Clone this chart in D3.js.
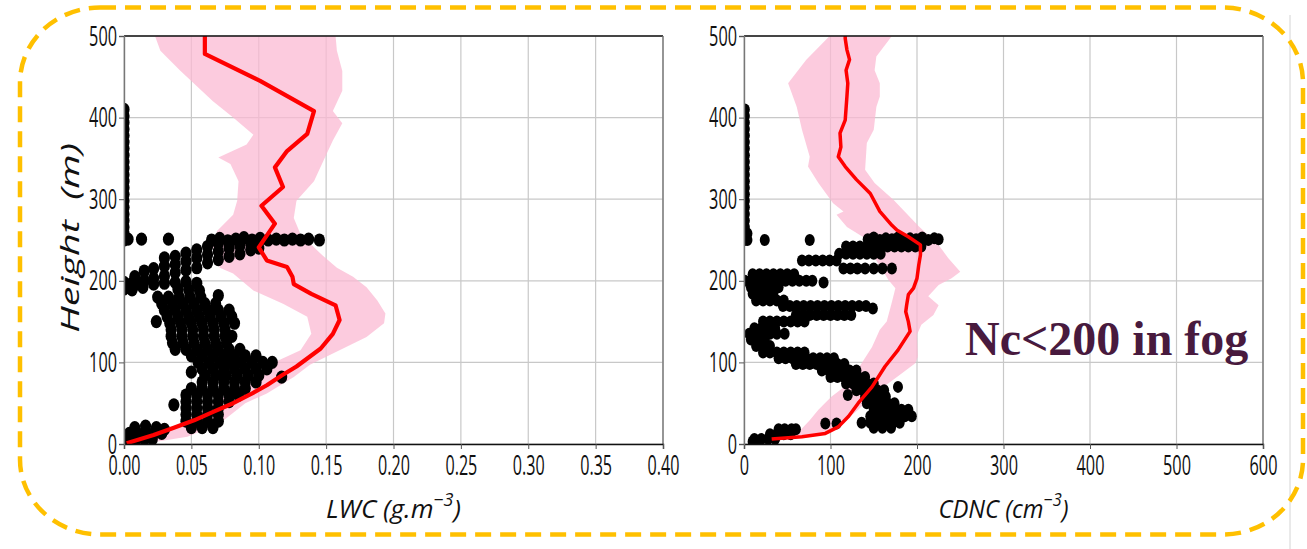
<!DOCTYPE html>
<html lang="en">
<head>
<meta charset="UTF-8">
<title>LWC and CDNC profiles in fog</title>
<script src="https://d3js.org/d3.v7.min.js"></script>
<style>
  html, body { margin: 0; padding: 0; background: #fff; }
  svg { display: block; }
  .sans { font-family: "Open Sans", "DejaVu Sans", sans-serif; }
</style>
</head>
<body>
<svg id="chart" width="1307" height="549"></svg>
<script>
// ---------- data ----------
var heightTicks = [0, 100, 200, 300, 400, 500];
var lwcTicks = [0, 0.05, 0.10, 0.15, 0.20, 0.25, 0.30, 0.35, 0.40];
var cdncTicks = [0, 100, 200, 300, 400, 500, 600];

// mean LWC profile [LWC, height]
var lwcMean = [[0.060,500],[0.060,478],[0.101,445],[0.141,408],[0.136,380],[0.121,359],[0.112,339],
  [0.118,315],[0.102,292],[0.112,270],[0.100,241],[0.106,225],[0.121,217],[0.125,205],[0.126,196],
  [0.139,184],[0.157,170],[0.160,152],[0.155,135],[0.146,117],[0.128,95],[0.117,84],[0.106,72],
  [0.094,61],[0.081,50],[0.067,40],[0.052,29],[0.037,20],[0.022,11],[0.002,1]];
// spread of LWC (left and right edge)
var lwcLow = [[0.023,500],[0.027,482],[0.042,457],[0.066,420],[0.081,400],[0.096,379],[0.091,367],
  [0.070,351],[0.079,343],[0.085,322],[0.084,298],[0.081,281],[0.069,261],[0.066,241],[0.071,216],
  [0.081,209],[0.096,188],[0.118,172],[0.136,156],[0.139,135],[0.131,115],[0.110,99],[0.098,85],
  [0.085,70],[0.072,55],[0.058,40],[0.045,28],[0.030,16],[0.012,5],[0.0,0]];
var lwcHigh = [[0.157,500],[0.158,482],[0.162,457],[0.162,433],[0.155,408],[0.162,393],[0.155,372],
  [0.148,347],[0.141,322],[0.128,298],[0.126,277],[0.131,257],[0.146,233],[0.158,216],[0.170,205],
  [0.180,192],[0.188,176],[0.194,160],[0.193,148],[0.180,131],[0.155,111],[0.138,97],[0.126,82],
  [0.106,62],[0.090,50],[0.071,25],[0.047,9],[0.017,1]];
// individual LWC samples
var lwcSamples = [
  [0,410],[0,402],[0,394],[0,386],[0,378],[0,370],[0,362],[0,354],[0,346],[0,338],[0,330],[0,322],
  [0,314],[0,306],[0,298],[0,290],[0,282],[0,274],[0,266],[0,258],[0,250],
  [0.003,251],[0.013,251],[0.033,251],[0.065,250],[0.071,252],[0.077,249],[0.083,251],[0.089,253],
  [0.095,250],[0.101,252],[0.107,250],[0.113,251],[0.119,250],[0.125,251],[0.131,250],[0.137,251],[0.145,250],
  [0.008,195],[0.008,205],[0.015,200],[0.015,212],[0.022,203],[0.022,215],[0.030,206],[0.030,218],
  [0.030,228],[0.038,210],[0.038,220],[0.038,230],[0.046,213],[0.046,224],[0.046,234],[0.054,216],
  [0.054,228],[0.054,238],[0.062,222],[0.062,232],[0.062,242],[0.070,226],[0.070,236],[0.070,246],
  [0.078,230],[0.078,240],[0.078,248],[0.086,233],[0.086,243],[0.094,238],[0.094,246],[0.100,240],[0.100,248],
  [0,198],[0,190],[0.006,197],[0.006,189],[0.014,192],[0.022,196],[0.030,197],[0.038,198],[0.046,199],
  [0.054,197],[0.040,190],[0.048,189],[0.056,188],[0.070,182],
  [0.025,180],[0.033,180],[0.041,180],[0.049,180],[0.057,180],
  [0.028,172],[0.036,172],[0.044,172],[0.052,172],[0.060,172],[0.068,172],
  [0.030,164],[0.038,164],[0.046,164],[0.054,164],[0.062,164],[0.070,164],[0.078,164],
  [0.032,156],[0.040,156],[0.048,156],[0.056,156],[0.064,156],[0.072,156],[0.080,156],[0.024,150],
  [0.034,148],[0.042,148],[0.050,148],[0.058,148],[0.066,148],[0.074,148],[0.082,148],
  [0.035,140],[0.043,140],[0.051,140],[0.059,140],[0.067,140],[0.075,140],
  [0.035,132],[0.043,132],[0.051,132],[0.059,132],[0.067,132],[0.075,132],[0.080,132],
  [0.036,124],[0.044,124],[0.052,124],[0.060,124],[0.068,124],[0.076,124],
  [0.038,116],[0.046,116],[0.054,116],[0.062,116],[0.070,116],[0.078,116],[0.086,116],
  [0.050,108],[0.058,108],[0.066,108],[0.074,108],[0.082,108],[0.090,108],[0.098,108],
  [0.055,100],[0.063,100],[0.071,100],[0.079,100],[0.087,100],[0.095,100],[0.103,100],[0.110,100],
  [0.058,92],[0.066,92],[0.074,92],[0.082,92],[0.090,92],[0.098,92],[0.106,92],[0.050,88],
  [0.060,84],[0.068,84],[0.076,84],[0.084,84],[0.092,84],[0.100,84],[0.117,82],
  [0.058,76],[0.066,76],[0.074,76],[0.082,76],[0.090,76],[0.098,76],
  [0.050,68],[0.058,68],[0.066,68],[0.074,68],[0.082,68],[0.090,68],
  [0.046,60],[0.054,60],[0.062,60],[0.070,60],[0.078,60],[0.085,60],
  [0.046,52],[0.054,52],[0.062,52],[0.070,52],[0.078,52],[0.037,48],
  [0.046,44],[0.054,44],[0.062,44],[0.070,44],
  [0.046,36],[0.054,36],[0.062,36],[0.070,36],
  [0.046,28],[0.054,28],[0.062,28],[0.070,28],
  [0.050,20],[0.058,20],[0.066,20],[0.008,20],[0.016,22],[0.024,20],[0.030,18],
  [0.004,13],[0.010,13],[0.016,13],[0.022,13],[0.028,13],
  [0.003,6],[0.009,6],[0.015,6],[0.021,6],[0.003,1]];

// mean CDNC profile [CDNC, height]
var cdncMean = [[117,500],[117,497],[119,483],[122,471],[118,458],[120,442],[119,426],[117,397],
  [111,381],[112,364],[109,352],[117,340],[130,324],[146,307],[150,299],[157,285],[171,268],[177,262],
  [190,254],[204,244],[204,232],[202,219],[200,203],[196,191],[190,183],[188,170],[187,162],[190,150],
  [192,138],[178,115],[163,95],[148,70],[132,50],[121,34],[109,21],[94,13],[67,9],[32,6]];
var cdncLow = [[99,500],[72,471],[51,442],[61,413],[67,385],[76,352],[74,340],[86,320],[103,295],
  [115,285],[107,281],[119,266],[140,252],[151,228],[159,215],[167,201],[175,191],[171,174],[165,150],
  [157,140],[148,119],[136,99],[121,74],[101,58],[86,42],[76,29],[65,17],[47,9],[30,5]];
var cdncHigh = [[171,500],[153,475],[151,458],[157,442],[157,426],[153,413],[150,385],[142,369],
  [140,336],[151,320],[173,299],[202,267],[225,244],[236,228],[250,211],[240,203],[225,195],[213,181],
  [225,170],[219,158],[205,146],[200,134],[201,107],[198,99],[178,83],[151,62],[132,42],[113,25],
  [98,13],[67,7],[30,5]];
var cdncSamples = [
  [1,410],[1,402],[1,394],[1,386],[1,378],[1,370],[1,362],[1,354],[1,346],[1,338],[1,330],[1,322],
  [1,314],[1,306],[1,298],[1,290],[1,282],[1,274],[1,266],[1,258],[1,250],[4,258],[4,250],
  [24,250],[76,250],[143,251],[150,253],[157,250],[164,252],[171,251],[178,253],[185,250],[192,252],
  [199,251],[206,253],[213,250],[220,252],[225,251],
  [118,242],[126,242],[134,242],[142,242],[150,242],[158,242],[166,242],[174,242],[182,242],[190,242],[198,242],[205,242],
  [110,233],[118,233],[126,233],[134,233],[142,233],[150,233],[158,233],
  [67,225],[75,225],[83,225],[91,225],[99,225],[107,225],
  [115,215],[123,215],[131,215],[140,215],[150,215],[160,215],[171,215],
  [10,208],[18,208],[26,208],[34,208],[42,208],[50,208],[58,208],
  [1,200],[8,200],[16,200],[24,200],[32,200],[40,200],[48,200],[56,200],[64,200],[72,200],[79,200],[92,198],
  [8,192],[16,192],[24,192],[32,192],[40,192],
  [10,184],[18,184],[26,184],[34,184],
  [14,176],[22,176],[30,176],[38,176],[46,176],
  [45,169],[53,169],[61,169],[69,169],[77,169],[85,169],[93,169],[101,169],[109,169],[117,169],[125,169],[133,169],[141,169],[149,166],
  [60,158],[68,158],[76,158],[84,158],[92,158],[100,158],[108,158],[116,158],[124,158],
  [22,150],[30,150],[38,150],[46,150],[54,150],[62,150],[70,150],
  [12,142],[20,142],[28,142],[36,142],
  [6,135],[14,135],[22,135],[30,135],[38,135],[47,135],
  [8,128],[16,128],[24,128],
  [14,120],[22,120],[30,120],
  [22,112],[30,112],[38,112],[46,112],[54,112],[62,112],[70,112],
  [40,105],[48,105],[56,105],[64,105],[72,105],[80,105],[88,105],[96,105],[104,105],
  [60,98],[68,98],[76,98],[84,98],[92,98],[100,98],[108,98],[116,98],
  [90,90],[98,90],[106,90],[114,90],[122,90],[130,90],
  [100,82],[108,82],[116,82],[124,82],[132,82],[140,82],
  [118,74],[126,74],[134,74],[142,74],[150,74],
  [130,66],[138,66],[146,66],[154,66],[162,66],[120,60],[178,70],
  [140,58],[148,58],[156,58],[164,58],
  [142,50],[150,50],[158,50],[166,50],[174,50],
  [150,42],[158,42],[166,42],[174,42],[182,42],[190,42],
  [146,34],[154,34],[162,34],[170,34],[178,34],[186,34],[194,34],
  [136,26],[146,26],[155,26],[164,26],[172,26],[180,26],
  [150,20],[160,20],[170,20],[94,25],[107,25],
  [40,18],[47,18],[55,18],[60,18],
  [30,12],[38,12],[46,12],[54,12],
  [12,6],[20,6],[28,6],[36,6],[10,3],[18,3]];

// ---------- drawing ----------
var W = 1307, H = 549;
var top0 = 36, bottom0 = 444;
var svg = d3.select("#chart");

svg.append("rect").attr("width", W).attr("height", H).attr("fill", "#fff");

// thin separator on the right
svg.append("line")
   .attr("x1", 1290).attr("x2", 1290).attr("y1", 15).attr("y2", H)
   .attr("stroke", "#d4d4d4").attr("stroke-width", 1);

function drawPanel(p) {
    var x = d3.scaleLinear().domain(p.xDomain).range([p.left, p.right]);
    var y = d3.scaleLinear().domain([0, 500]).range([bottom0, top0]);
    var line = d3.line().x(function(d) { return x(d[0]); }).y(function(d) { return y(d[1]); });
    var g = svg.append("g");

    var clipId = "clip-" + p.name;
    svg.append("clipPath").attr("id", clipId)
       .append("rect")
       .attr("x", p.left).attr("y", top0)
       .attr("width", p.right - p.left).attr("height", bottom0 - top0);

    // grid
    g.selectAll(".vgrid").data(p.xTicks).enter().append("line")
     .attr("x1", function(d) { return x(d); }).attr("x2", function(d) { return x(d); })
     .attr("y1", top0).attr("y2", bottom0)
     .attr("stroke", "#c8c8c8").attr("stroke-width", 1.2);
    g.selectAll(".hgrid").data(heightTicks).enter().append("line")
     .attr("x1", p.left).attr("x2", p.right)
     .attr("y1", function(d) { return y(d); }).attr("y2", function(d) { return y(d); })
     .attr("stroke", "#c8c8c8").attr("stroke-width", 1.2);

    var inner = g.append("g").attr("clip-path", "url(#" + clipId + ")");

    // spread band
    var band = p.low.concat(p.high.slice().reverse());
    inner.append("path")
         .attr("fill", "#fbb9d3").attr("fill-opacity", 0.75)
         .attr("d", line(band) + "Z");

    // samples
    inner.selectAll(".dot").data(p.samples).enter().append("ellipse")
         .attr("cx", function(d) { return x(d[0]); })
         .attr("cy", function(d) { return y(d[1]); })
         .attr("rx", p.rx).attr("ry", p.ry)
         .attr("fill", "#000");

    // mean profile
    inner.append("path")
         .datum(p.mean)
         .attr("fill", "none").attr("stroke", "#ff0000")
         .attr("stroke-width", p.lineWidth).attr("stroke-linejoin", "round")
         .attr("d", line);

    // spines
    g.append("line").attr("x1", p.left).attr("x2", p.right).attr("y1", top0).attr("y2", top0)
     .attr("stroke", "#111").attr("stroke-width", 1.4);
    g.append("line").attr("x1", p.right).attr("x2", p.right).attr("y1", top0).attr("y2", bottom0)
     .attr("stroke", "#777").attr("stroke-width", 1.4);

    // axes
    var xAxis = g.append("g")
        .attr("transform", "translate(0," + bottom0 + ")")
        .call(d3.axisBottom(x).tickValues(p.xTicks).tickSize(5).tickFormat(p.xFormat));
    var yAxis = g.append("g")
        .attr("transform", "translate(" + p.left + ",0)")
        .call(d3.axisLeft(y).tickValues(heightTicks).tickSize(5).tickFormat(d3.format("d")));

    xAxis.select(".domain").attr("stroke", "#111").attr("stroke-width", 1.4);
    yAxis.select(".domain").attr("stroke", "#777").attr("stroke-width", 1.4);
    g.selectAll(".tick line").attr("stroke", "#555");

    function charWidth(s) {
        var w = 0;
        for (var i = 0; i < s.length; i++) w += (s[i] === ".") ? 4 : 9.3;
        return w;
    }
    xAxis.selectAll("text")
         .attr("class", "sans")
         .attr("y", 31).attr("dy", null)
         .attr("font-size", 28).attr("fill", "#111")
         .attr("lengthAdjust", "spacingAndGlyphs")
         .attr("textLength", function() { return charWidth(this.textContent); });
    yAxis.selectAll("text")
         .attr("class", "sans")
         .attr("x", -7).attr("dy", "0.34em")
         .attr("font-size", 27).attr("fill", "#111")
         .attr("lengthAdjust", "spacingAndGlyphs")
         .attr("textLength", function() { return charWidth(this.textContent); });

    // axis title
    var t = g.append("text")
        .attr("class", "sans")
        .attr("x", (p.left + p.right) / 2).attr("y", 518)
        .attr("text-anchor", "middle").attr("font-style", "italic")
        .attr("font-size", 26).attr("fill", "#111")
        .attr("lengthAdjust", "spacingAndGlyphs").attr("textLength", p.titleLength);
    t.append("tspan").text(p.title);
    t.append("tspan").attr("font-size", 18).attr("dy", -12).text("\u22123");
    t.append("tspan").attr("dy", 12).text(")");
}

drawPanel({
    name: "lwc", left: 124, right: 663, xDomain: [0, 0.4], xTicks: lwcTicks,
    xFormat: d3.format(".2f"), low: lwcLow, high: lwcHigh, samples: lwcSamples, mean: lwcMean,
    rx: 5.6, ry: 6.6, lineWidth: 4.2, title: "LWC (g.m", titleLength: 135
});
drawPanel({
    name: "cdnc", left: 744, right: 1263, xDomain: [0, 600], xTicks: cdncTicks,
    xFormat: d3.format("d"), low: cdncLow, high: cdncHigh, samples: cdncSamples, mean: cdncMean,
    rx: 5.0, ry: 6.0, lineWidth: 3.5, title: "CDNC (cm", titleLength: 130
});

// y title
svg.append("text")
   .attr("class", "sans")
   .attr("transform", "translate(79,238) rotate(-90)")
   .attr("text-anchor", "middle").attr("font-style", "italic")
   .attr("font-size", 25).attr("fill", "#111")
   .attr("lengthAdjust", "spacingAndGlyphs").attr("textLength", 190)
   .style("white-space", "pre")
   .text("Height  (m)");

// annotation
svg.append("text")
   .attr("x", 965).attr("y", 355)
   .style("font-family", "'Liberation Serif', 'Times New Roman', serif")
   .attr("font-weight", "bold").attr("font-size", 48).attr("fill", "#481a3e")
   .text("Nc<200 in fog");

// dashed rounded frame
svg.append("rect")
   .attr("x", 20).attr("y", 7.5).attr("width", 1283).attr("height", 527)
   .attr("rx", 80).attr("ry", 75)
   .attr("fill", "none").attr("stroke", "#ffc000")
   .attr("stroke-width", 4.5).attr("stroke-dasharray", "16 9");
</script>
</body>
</html>
